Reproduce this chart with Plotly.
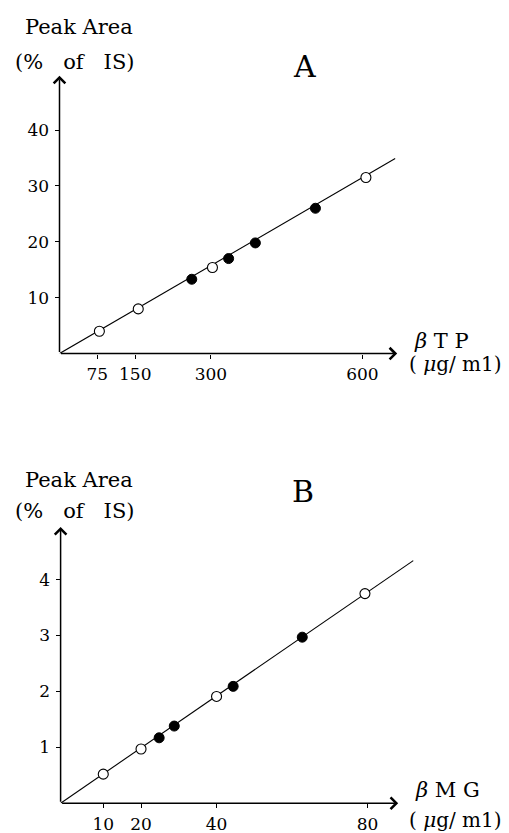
import plotly.graph_objects as go

W, H = 509, 833
FONT = "DejaVu Serif"

# ---------------- Panel A (beta-TP) ----------------
tp_std_x = [79, 156, 303, 607]          # open circles
tp_std_y = [4.0, 8.0, 15.4, 31.5]
tp_smp_x = [262, 335, 388, 507]         # filled circles
tp_smp_y = [13.3, 17.0, 19.8, 26.0]
tp_fit_x = [0, 665]
tp_fit_y = [0, 34.9]
tp_xticks = [75, 150, 300, 600]
tp_yticks = [10, 20, 30, 40]

# ---------------- Panel B (beta-MG) ----------------
mg_std_x = [10, 20, 40, 79.3]
mg_std_y = [0.52, 0.97, 1.91, 3.75]
mg_smp_x = [24.8, 28.8, 44.4, 62.7]
mg_smp_y = [1.17, 1.38, 2.09, 2.97]
mg_fit_x = [-1.3, 92.1]
mg_fit_y = [0, 4.34]
mg_xticks = [10, 20, 40, 80]
mg_yticks = [1, 2, 3, 4]

# axis ranges
A_xr = [0, 720]
A_yr = [0, 50]
A_xend, A_yend = 669, 49.7
B_xr = [-1.3, 95]
B_yr = [0, 5]
B_xend, B_yend = 88.1, 4.94

# pixel layout
def xdom(l, r):
    return [l / W, r / W]

def ydom(b, t):
    return [1 - b / H, 1 - t / H]

A_dx = xdom(59.5, 59.5 + (A_xr[1] - A_xr[0]) * 0.5048)
A_dy = ydom(353.6, 353.6 - (A_yr[1] - A_yr[0]) * 5.59)
B_dx = xdom(60.6, 60.6 + (B_xr[1] - B_xr[0]) * 3.776)
B_dy = ydom(803.2, 803.2 - (B_yr[1] - B_yr[0]) * 55.9)

fig = go.Figure()

def add_panel(xa, ya, fx, fy, sx, sy, px, py):
    fig.add_trace(go.Scatter(x=fx, y=fy, mode="lines", xaxis=xa, yaxis=ya,
                             line=dict(color="black", width=1.1), showlegend=False,
                             hoverinfo="skip"))
    fig.add_trace(go.Scatter(x=sx, y=sy, mode="markers", xaxis=xa, yaxis=ya,
                             marker=dict(size=10, color="white", symbol="circle",
                                         line=dict(color="black", width=1.1)),
                             showlegend=False, cliponaxis=False))
    fig.add_trace(go.Scatter(x=px, y=py, mode="markers", xaxis=xa, yaxis=ya,
                             marker=dict(size=10, color="black", symbol="circle",
                                         line=dict(color="black", width=1)),
                             showlegend=False, cliponaxis=False))

add_panel("x", "y", tp_fit_x, tp_fit_y, tp_std_x, tp_std_y, tp_smp_x, tp_smp_y)
add_panel("x2", "y2", mg_fit_x, mg_fit_y, mg_std_x, mg_std_y, mg_smp_x, mg_smp_y)

tickfont = dict(family=FONT, size=17, color="black")
common_ax = dict(showgrid=False, zeroline=False, showline=False, ticks="outside",
                 ticklen=4, tickwidth=1, tickcolor="black", tickfont=tickfont,
                 fixedrange=True)

fig.update_layout(
    width=W, height=H,
    margin=dict(l=0, r=0, t=0, b=0),
    paper_bgcolor="white", plot_bgcolor="white",
    showlegend=False,
    xaxis=dict(domain=A_dx, range=A_xr, anchor="y", tickvals=tp_xticks,
               ticktext=[str(v) for v in tp_xticks], ticklabelstandoff=1, **common_ax),
    yaxis=dict(domain=A_dy, range=A_yr, anchor="x", tickvals=tp_yticks,
               ticktext=[str(v) for v in tp_yticks], ticklabelstandoff=2, **common_ax),
    xaxis2=dict(domain=B_dx, range=B_xr, anchor="y2", tickvals=mg_xticks,
                ticktext=[str(v) for v in mg_xticks], ticklabelstandoff=1, **common_ax),
    yaxis2=dict(domain=B_dy, range=B_yr, anchor="x2", tickvals=mg_yticks,
                ticktext=[str(v) for v in mg_yticks], ticklabelstandoff=2, **common_ax),
)

anns = []

def arrow(xref, yref, x0, y0, x1, y1):
    anns.append(dict(xref=xref, yref=yref, axref=xref, ayref=yref,
                     x=x1, y=y1, ax=x0, ay=y0, text="", showarrow=True,
                     arrowhead=4, arrowsize=1.5, arrowwidth=1.5,
                     arrowcolor="black", standoff=0, startstandoff=0))

arrow("x", "y", A_xr[0], 0, A_xend, 0)
arrow("x", "y", A_xr[0], 0, A_xr[0], A_yend)
arrow("x2", "y2", B_xr[0], 0, B_xend, 0)
arrow("x2", "y2", B_xr[0], 0, B_xr[0], B_yend)

def text(s, x, y, size, xanchor="center"):
    anns.append(dict(xref="paper", yref="paper", x=x / W, y=1 - y / H, text=s,
                     showarrow=False, xanchor=xanchor, yanchor="middle",
                     font=dict(family=FONT, size=size, color="black")))

nb = "\u00a0"
for yy in (27, 480):
    text("Peak" + nb + "Area", 79, yy, 21)
for yy in (62, 511):
    text("(%" + nb * 3 + "of" + nb * 3 + "IS)", 75, yy, 21)

text("A", 304, 67, 30)
text("B", 302.5, 492, 30)

text("<i>β</i>" + nb + "T" + nb + "P", 441, 341, 21)
text("(" + nb + "<i>μ</i>g/" + nb + "m1)", 455, 364, 20)
text("<i>β</i>" + nb + "M" + nb + "G", 447, 790, 21)
text("(" + nb + "<i>μ</i>g/" + nb + "m1)", 455, 820, 20)

fig.update_layout(annotations=anns)

fig.write_html("out.html", config={"displayModeBar": False},
               post_script="document.body.style.margin='0';document.body.style.padding='0';")
